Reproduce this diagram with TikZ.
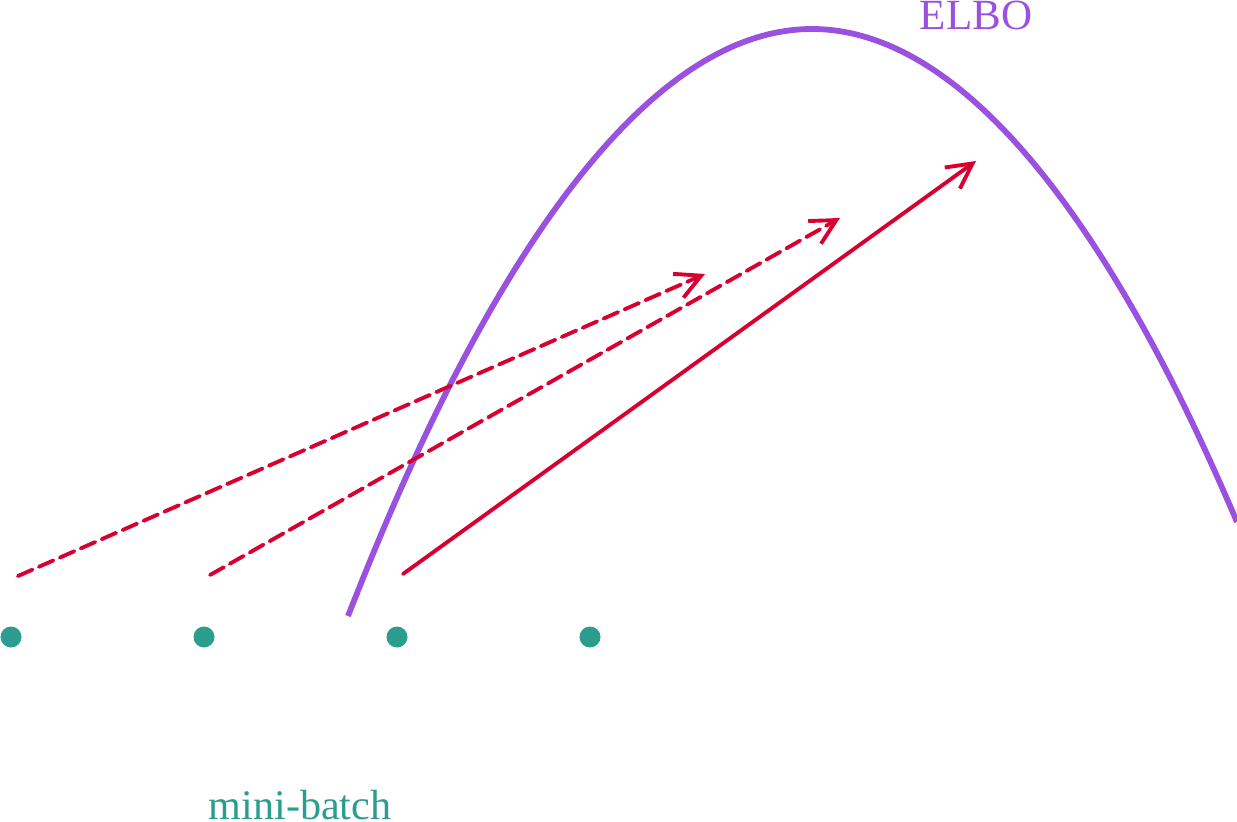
\documentclass[tikz,border=0pt]{standalone}
\usepackage{fontspec}
\setmainfont{Liberation Serif}
\usetikzlibrary{arrows.meta}

\definecolor{elbopurple}{RGB}{155,81,224}
\definecolor{stepred}{RGB}{215,0,48}
\definecolor{batchteal}{RGB}{42,157,143}

\begin{document}
\begin{tikzpicture}[%
        every path/.style = {line cap = round},
        gradstep/.style = {%
            draw = stepred,
            line width = 2.2pt,
            -{Straight Barb[length = 5mm, width = 5.2mm]}
        }
    ]

        \useasboundingbox (0, 0) rectangle (24.74, 16.42);

        % The ELBO curve and its label.
        \draw[elbopurple, line width = 3.3pt, line cap = butt]
            (6.96, 4.10) parabola bend (16.24, 15.84) (24.74, 5.98);
        \node[elbopurple, anchor = base, font = \fontsize{24.5}{29}\selectfont]
            (elbo) at (19.52, 15.82) {ELBO};

        % Data points of the mini-batch.
        \begin{scope}[fill = batchteal]
            \fill (0.22, 3.68) circle (0.21);
            \fill (4.08, 3.68) circle (0.21);
            \fill (7.94, 3.68) circle (0.21);
            \fill (11.80, 3.68) circle (0.21);
        \end{scope}
        \node[batchteal, anchor = base, font = \fontsize{24}{29}\selectfont]
            (batch) at (6.00, 0.04) {mini-batch};

        % Start and end points of the update steps.
        \coordinate (s1) at (0.36, 4.90);
        \coordinate (e1) at (14.10, 10.94);
        \coordinate (s2) at (4.20, 4.92);
        \coordinate (e2) at (16.80, 12.06);
        \coordinate (s3) at (8.06, 4.94);
        \coordinate (e3) at (19.52, 13.20);

        % Noisy steps dashed, the last one solid.
        \begin{scope}[dash pattern = on 9pt off 4pt]
            \draw[gradstep] (s1) -- (e1);
            \draw[gradstep] (s2) -- (e2);
        \end{scope}
        \draw[gradstep] (s3) -- (e3);
    \end{tikzpicture}
\end{document}
